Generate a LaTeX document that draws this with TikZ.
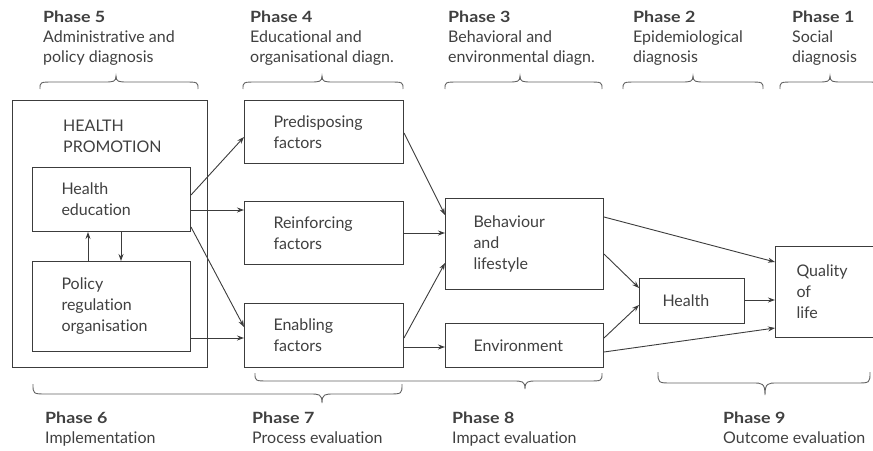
\documentclass[tikz,border=0pt]{standalone}
\usepackage{fontspec}
\setmainfont{Lato}[Ligatures={NoCommon}]
\usetikzlibrary{arrows.meta}
\definecolor{ink}{HTML}{3C3C3C}
\definecolor{txt}{HTML}{404040}
\newcommand\mybrace[6]{% x1 x2 xtip yend yline ytip
  \draw[brc] (#1,#4) .. controls (#1,#5) and (#1,#5) .. ({#1+14},#5)
    -- ({#3-12},#5) .. controls ({#3-3},#5) and (#3,#5) .. (#3,#6)
    .. controls (#3,#5) and ({#3+3},#5) .. ({#3+12},#5)
    -- ({#2-14},#5) .. controls (#2,#5) and (#2,#5) .. (#2,#4);}
\newcommand\phs[1]{\scalebox{1.15}[1]{#1}}
\begin{document}
\begin{tikzpicture}[x=1pt,y=-1pt,
  every node/.style={text=txt, font=\fontsize{16}{21}\selectfont},
  frame/.style={draw=ink, line width=1pt, rectangle, inner sep=0pt, anchor=north west},
  bx/.style={frame, align=left, inner xsep=28pt, inner ysep=0pt},
  ttl/.style={anchor=base west, inner sep=0pt, font=\fontsize{15.5}{21}\selectfont\bfseries},
  dsc/.style={anchor=base west, inner sep=0pt, align=left, font=\fontsize{16}{19.5}\selectfont},
  arr/.style={draw=ink, line width=0.9pt, -{Stealth[length=7pt,width=5pt]}},
  brc/.style={draw=ink!80, line width=0.9pt}]
\useasboundingbox (0,0) rectangle (873,450);
% top headers
\node[ttl] (p5) at (43,22) {\phs{Phase 5}};
\node[dsc] (d5) at (43,62) {Administrative and\\policy diagnosis};
\node[ttl] (p4) at (250,22) {\phs{Phase 4}};
\node[dsc] (d4) at (250,62) {Educational and\\organisational diagn.};
\node[ttl] (p3) at (448,22) {\phs{Phase 3}};
\node[dsc] (d3) at (448,62) {Behavioral and\\environmental diagn.};
\node[ttl] (p2) at (633,22) {\phs{Phase 2}};
\node[dsc] (d2) at (633,62) {Epidemiological\\diagnosis};
\node[ttl] (p1) at (792,22) {\phs{Phase 1}};
\node[dsc] (d1) at (792,62) {Social\\diagnosis};
% top braces
\mybrace{40}{198}{116}{89}{82}{76}
\mybrace{243}{403}{322}{89}{82}{76}
\mybrace{445}{602}{520}{89}{82}{76}
\mybrace{623}{763}{693}{89}{82}{76}
\mybrace{780}{880}{830}{89}{82}{76}
% boxes
\node[frame, minimum width=195pt, minimum height=267pt] (hp) at (12,100) {};
\node[dsc, font=\fontsize{16}{21}\selectfont] (hpt) at (63,152) {HEALTH\\PROMOTION};
\node[bx, text width=100pt, minimum height=64pt, inner xsep=29pt] (he) at (32,167) {Health\\education};
\node[bx, text width=100pt, minimum height=90pt, inner xsep=29pt] (pol) at (32,261) {Policy\\regulation\\organisation};
\node[bx, text width=101pt, minimum height=63pt, inner xsep=29pt] (pre) at (244,100) {Predisposing\\factors};
\node[bx, text width=101pt, minimum height=63pt, inner xsep=29pt] (rei) at (244,201) {Reinforcing\\factors};
\node[bx, text width=101pt, minimum height=64pt, inner xsep=29pt] (ena) at (244,303) {Enabling\\factors};
\node[bx, text width=102pt, minimum height=91pt] (beh) at (445,198) {Behaviour\\and\\lifestyle};
\node[bx, text width=102pt, minimum height=44pt] (env) at (445,323) {Environment};
\node[bx, text width=59pt, minimum height=45pt, inner xsep=23pt] (hea) at (639,278) {Health};
\node[bx, text width=73pt, minimum height=91pt, inner xsep=21pt] (qol) at (775,246) {Quality\\of\\life};
% arrows
\draw[arr] (he.east |- 0,195) -- (pre.west |- 0,137);
\draw[arr] (he.east |- 0,210) -- (rei.west |- 0,210);
\draw[arr] (he.east |- 0,227) -- (ena.west |- 0,327);
\draw[arr] (pol.east |- 0,338) -- (ena.west |- 0,338);
\draw[arr] (pol.north -| 88,0) -- (he.south -| 88,0);
\draw[arr] (he.south -| 121,0) -- (pol.north -| 121,0);
\draw[arr] (pre.east |- 0,133) -- (beh.west |- 0,215);
\draw[arr] (rei.east |- 0,233) -- (beh.west |- 0,233);
\draw[arr] (ena.east |- 0,338) -- (beh.west |- 0,263);
\draw[arr] (ena.east |- 0,347) -- (env.west |- 0,347);
\draw[arr] (beh.east |- 0,217) -- (qol.west |- 0,262);
\draw[arr] (beh.east |- 0,254) -- (hea.west |- 0,288);
\draw[arr] (env.east |- 0,338) -- (hea.west |- 0,305);
\draw[arr] (env.east |- 0,352) -- (qol.west |- 0,328);
\draw[arr] (hea.east |- 0,300) -- (qol.west |- 0,300);
% bottom braces
\mybrace{33}{402}{322}{384}{394}{403}
\mybrace{255}{602}{525}{373}{381}{389}
\mybrace{658}{870}{765}{372}{383}{395}
% bottom labels
\node[ttl] (p6) at (45,423) {\phs{Phase 6}};
\node[dsc] (d6) at (45,443) {Implementation};
\node[ttl] (p7) at (252,423) {\phs{Phase 7}};
\node[dsc] (d7) at (252,443) {Process evaluation};
\node[ttl] (p8) at (452,423) {\phs{Phase 8}};
\node[dsc] (d8) at (452,443) {Impact evaluation};
\node[ttl] (p9) at (723,423) {\phs{Phase 9}};
\node[dsc] (d9) at (723,443) {Outcome evaluation};
\end{tikzpicture}
\end{document}
